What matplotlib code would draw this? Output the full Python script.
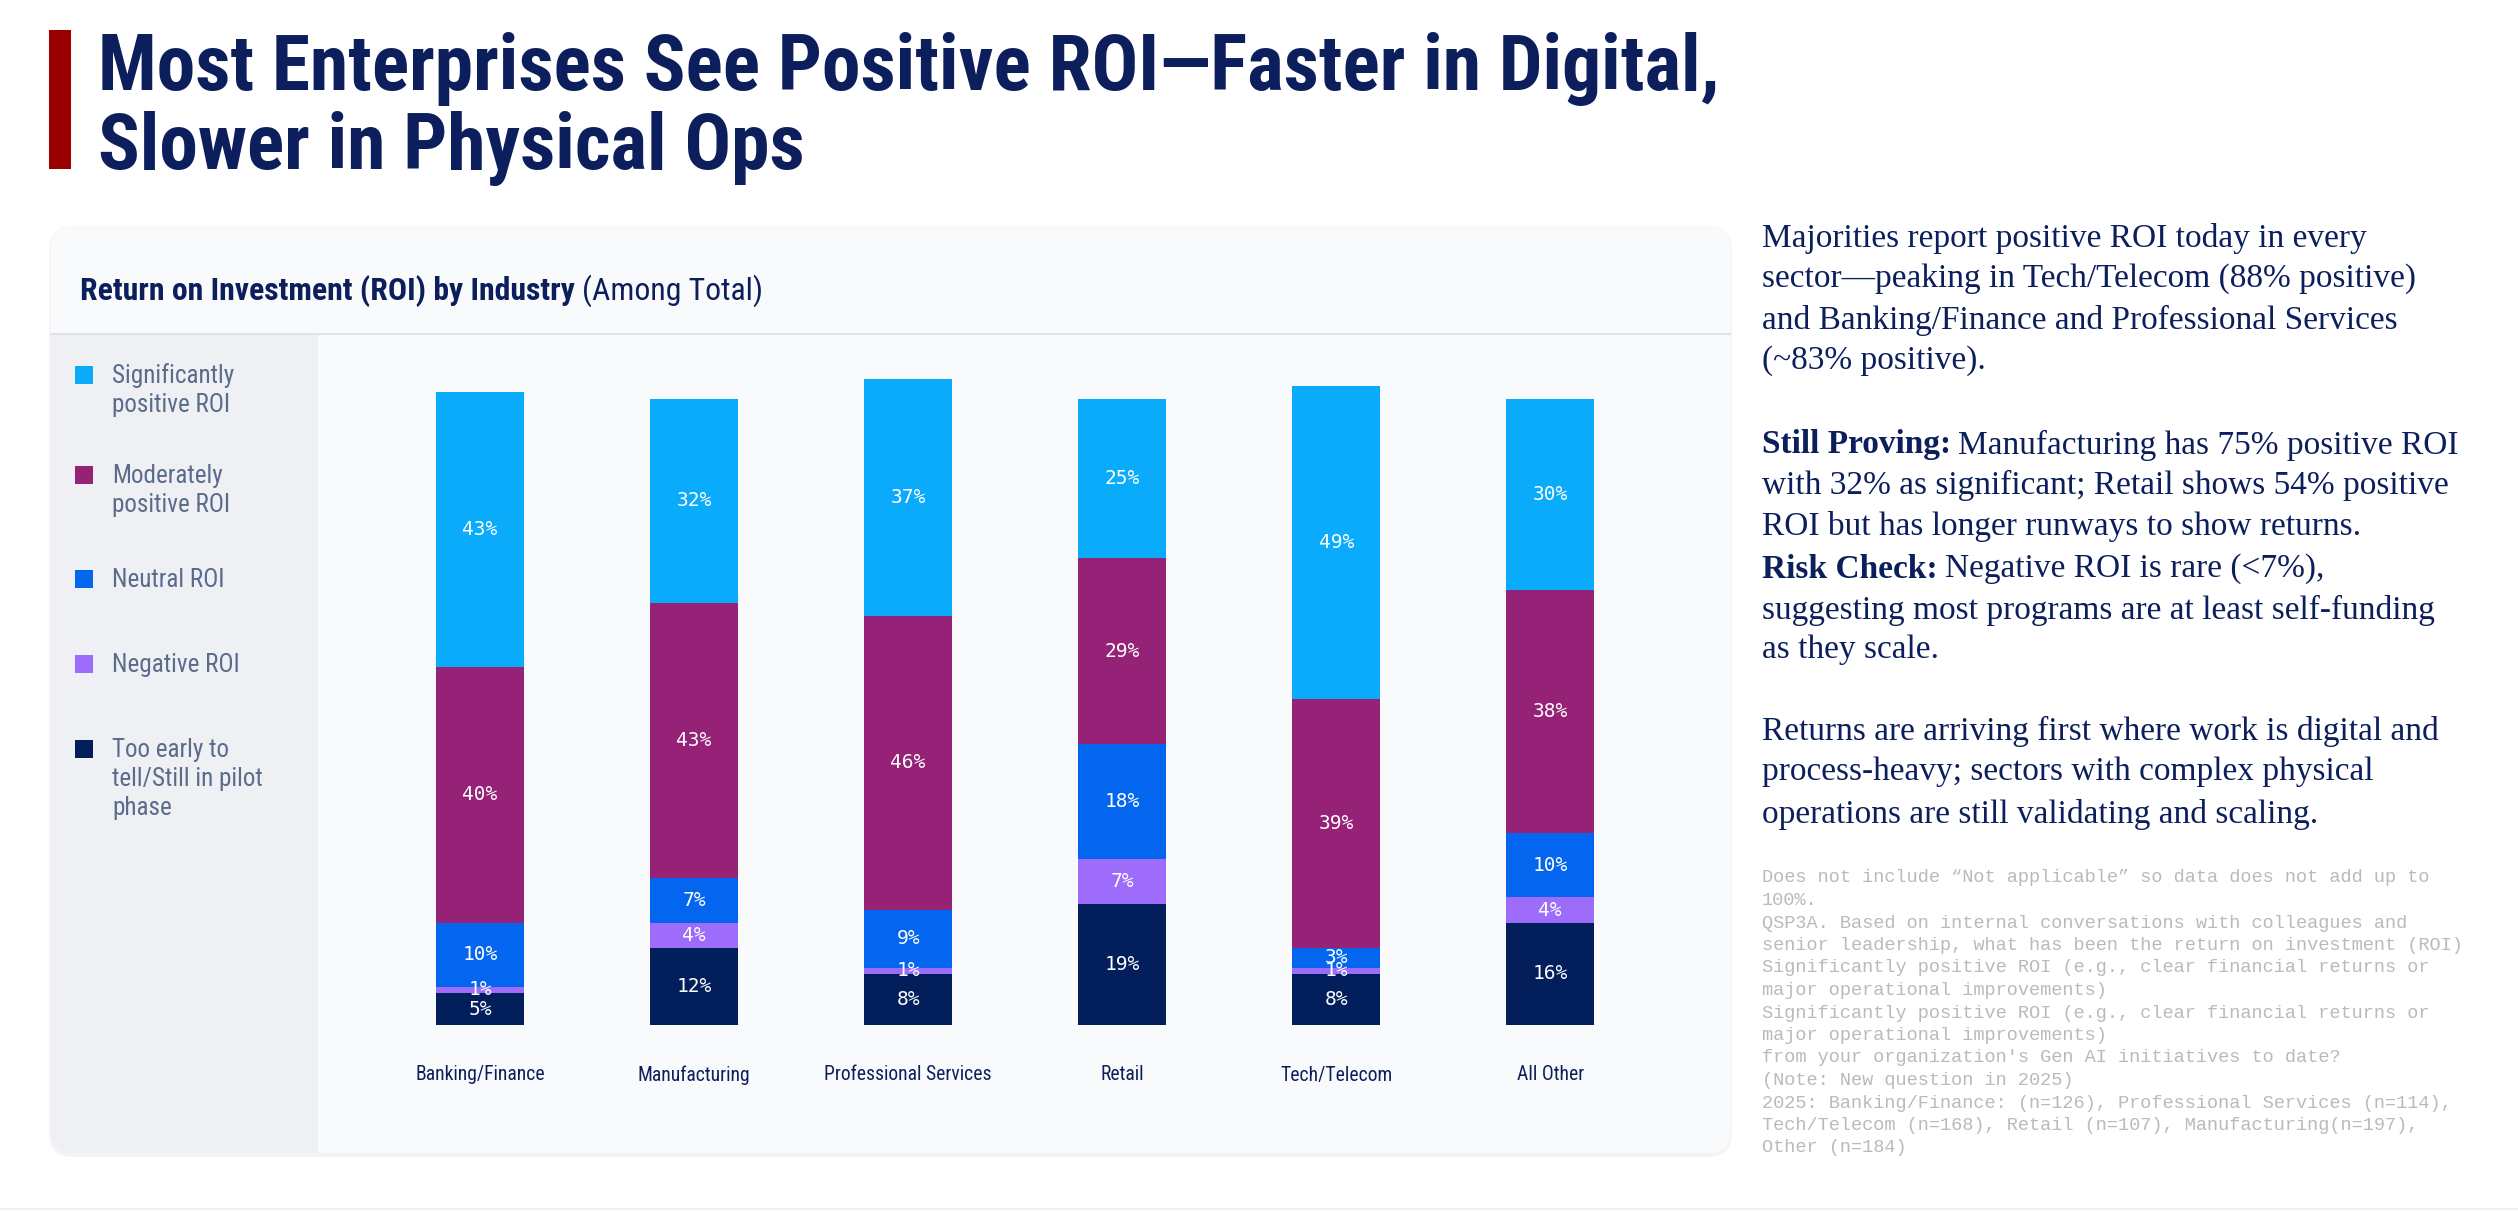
import matplotlib
matplotlib.use("Agg")
import matplotlib.pyplot as plt
from matplotlib import font_manager as fm
from matplotlib.patches import FancyBboxPatch, Rectangle

# data (percent of respondents)
industries = ["Banking/Finance", "Manufacturing", "Professional Services",
              "Retail", "Tech/Telecom", "All Other"]
too_early = [5, 12, 8, 19, 8, 16]
negative = [1, 4, 1, 7, 1, 4]
neutral = [10, 7, 9, 18, 3, 10]
moderate = [40, 43, 46, 29, 39, 38]
significant = [43, 32, 37, 25, 49, 30]

legend_labels = [["Significantly", "positive ROI"],
                 ["Moderately", "positive ROI"],
                 ["Neutral ROI"],
                 ["Negative ROI"],
                 ["Too early to", "tell/Still in pilot", "phase"]]

NAVY = "#0c1f5c"
colors = {"sig": "#0aabfa", "mod": "#962277", "neu": "#0466ee",
          "neg": "#9d6cfa", "early": "#021f5c"}


def find_narrow():
    # look for any condensed sans face; fall back to Liberation Sans
    cands = [("Liberation Sans Narrow", "normal"), ("Arial Narrow", "normal"),
             ("Roboto Condensed", "normal"), ("Noto Sans Condensed", "normal"),
             ("Open Sans Condensed", "normal"), ("Noto Sans", "condensed"),
             ("Roboto", "condensed"), ("Open Sans", "condensed"),
             ("DejaVu Sans", "condensed")]
    for fam, st in cands:
        fp = fm.FontProperties(family=fam, stretch=st, weight="bold")
        try:
            path = fm.findfont(fp, fallback_to_default=False)
        except Exception:
            continue
        low = path.lower()
        if "narrow" in low or "cond" in low:
            return fam, st
    return "Liberation Sans", "normal"


NARROW, STRETCH = find_narrow()
SERIF = "Liberation Serif"
MONO = "Liberation Mono"

W, H = 2518, 1216
fig = plt.figure(figsize=(W / 100, H / 100), dpi=100)
fig.patch.set_facecolor("white")
renderer = fig.canvas.get_renderer()


def fit(t, width):
    # scale a text so it spans the given pixel width
    w = t.get_window_extent(renderer).width
    t.set_fontsize(t.get_fontsize() * width / w)
    return t.get_fontsize()


def ntext(axis, *args, **kw):
    return axis.text(*args, family=NARROW, stretch=STRETCH, **kw)


# background layer in pixel coordinates
bg = fig.add_axes([0, 0, 1, 1])
bg.set_xlim(0, W)
bg.set_ylim(H, 0)
bg.axis("off")

# title
bg.add_patch(Rectangle((49, 30), 22, 139, color="#9b0000", lw=0))
t1 = ntext(bg, 98, 90, "Most Enterprises See Positive ROI\u2014Faster in Digital,",
           fontsize=50, fontweight="bold", color=NAVY, va="baseline")
fs = fit(t1, 1625)
ntext(bg, 98, 169, "Slower in Physical Ops", fontsize=fs, fontweight="bold",
      color=NAVY, va="baseline")

# card
shadow = FancyBboxPatch((49, 227), 1683, 930, boxstyle="round,pad=0,rounding_size=24",
                        fc="#000000", ec="none", alpha=0.045)
bg.add_patch(shadow)
card = FancyBboxPatch((51, 225), 1679, 928, boxstyle="round,pad=0,rounding_size=22",
                      fc="#f9fafb", ec="none")
bg.add_patch(card)
panel = Rectangle((51, 334), 267, 830, fc="#eef0f3", ec="none")
bg.add_patch(panel)
panel.set_clip_path(card)
bg.plot([51, 1730], [334, 334], color="#e1e3e7", lw=1.5)

# card header with bold + regular parts
h1 = ntext(bg, 80, 291, "Return on Investment (ROI) by Industry", fontsize=18,
           fontweight="bold", color=NAVY, va="center")
hs = fit(h1, 495)
w1 = h1.get_window_extent(renderer).width
ntext(bg, 80 + w1 + 7, 291, "(Among Total)", fontsize=hs, color=NAVY, va="center")

# legend
probe = ntext(bg, 0, -100, "Significantly", fontsize=16)
ls = fit(probe, 122)
probe.remove()
sq_y = [375, 475, 579, 664, 749]
for key, y, lines in zip(["sig", "mod", "neu", "neg", "early"], sq_y, legend_labels):
    bg.add_patch(Rectangle((75, y - 9), 18, 18, color=colors[key], lw=0))
    for j, line in enumerate(lines):
        ntext(bg, 112, y + 1 + j * 29, line, fontsize=ls, color="#5a6b8c", va="center")

# bars
ax = fig.add_axes([318 / W, 1 - 1153 / H, (1730 - 318) / W, (1153 - 334) / H])
ax.patch.set_alpha(0)
ax.set_xlim(-0.757, 5.84)
ax.set_ylim(-20.0, 108.1)
ax.axis("off")

x = list(range(len(industries)))
bottom = [0] * len(industries)
for key, vals in [("early", too_early), ("neg", negative), ("neu", neutral),
                  ("mod", moderate), ("sig", significant)]:
    ax.bar(x, vals, width=0.41, bottom=bottom, color=colors[key], lw=0)
    for xi, b, v in zip(x, bottom, vals):
        ax.text(xi, b + v / 2, f"{v}%", ha="center", va="center", color="white",
                fontsize=14, family="DejaVu Sans Mono")
    bottom = [b + v for b, v in zip(bottom, vals)]

probe = ntext(bg, 0, -100, "Professional Services", fontsize=14)
cs = fit(probe, 169)
probe.remove()
for xi, name in zip(x, industries):
    ntext(ax, xi, -7.8, name, ha="center", va="center", fontsize=cs, color=NAVY)

# commentary on the right
tx = 1762
para1 = ["Majorities report positive ROI today in every",
         "sector\u2014peaking in Tech/Telecom (88% positive)",
         "and Banking/Finance and Professional Services",
         "(~83% positive)."]
for line, y in zip(para1, [238, 279, 320, 361]):
    bg.text(tx, y, line, fontsize=24, family=SERIF, color=NAVY, va="center")


def mixed(y, bold, rest):
    t = bg.text(tx, y, bold, fontsize=24, family=SERIF, fontweight="bold",
                color=NAVY, va="center")
    w = t.get_window_extent(renderer).width
    bg.text(tx + w + 7, y, rest, fontsize=24, family=SERIF, color=NAVY, va="center")


mixed(445, "Still Proving:", "Manufacturing has 75% positive ROI")
bg.text(tx, 485, "with 32% as significant; Retail shows 54% positive",
        fontsize=24, family=SERIF, color=NAVY, va="center")
bg.text(tx, 527, "ROI but has longer runways to show returns.",
        fontsize=24, family=SERIF, color=NAVY, va="center")
mixed(569, "Risk Check:", "Negative ROI is rare (<7%),")
bg.text(tx, 610, "suggesting most programs are at least self-funding",
        fontsize=24, family=SERIF, color=NAVY, va="center")
bg.text(tx, 650, "as they scale.", fontsize=24, family=SERIF, color=NAVY, va="center")

para3 = ["Returns are arriving first where work is digital and",
         "process-heavy; sectors with complex physical",
         "operations are still validating and scaling."]
for line, y in zip(para3, [731, 772, 814]):
    bg.text(tx, y, line, fontsize=24, family=SERIF, color=NAVY, va="center")

notes = ["Does not include \u201cNot applicable\u201d so data does not add up to",
         "100%.",
         "QSP3A. Based on internal conversations with colleagues and",
         "senior leadership, what has been the return on investment (ROI)",
         "Significantly positive ROI (e.g., clear financial returns or",
         "major operational improvements)",
         "Significantly positive ROI (e.g., clear financial returns or",
         "major operational improvements)",
         "from your organization's Gen AI initiatives to date?",
         "(Note: New question in 2025)",
         "2025: Banking/Finance: (n=126), Professional Services (n=114),",
         "Tech/Telecom (n=168), Retail (n=107), Manufacturing(n=197),",
         "Other (n=184)"]
for i, line in enumerate(notes):
    bg.text(tx, 878 + 22.5 * i, line, fontsize=13.4, family=MONO,
            color="#bababa", va="center")

bg.plot([0, W], [1209, 1209], color="#ececec", lw=1.2)

fig.savefig("out.png", dpi=100)
